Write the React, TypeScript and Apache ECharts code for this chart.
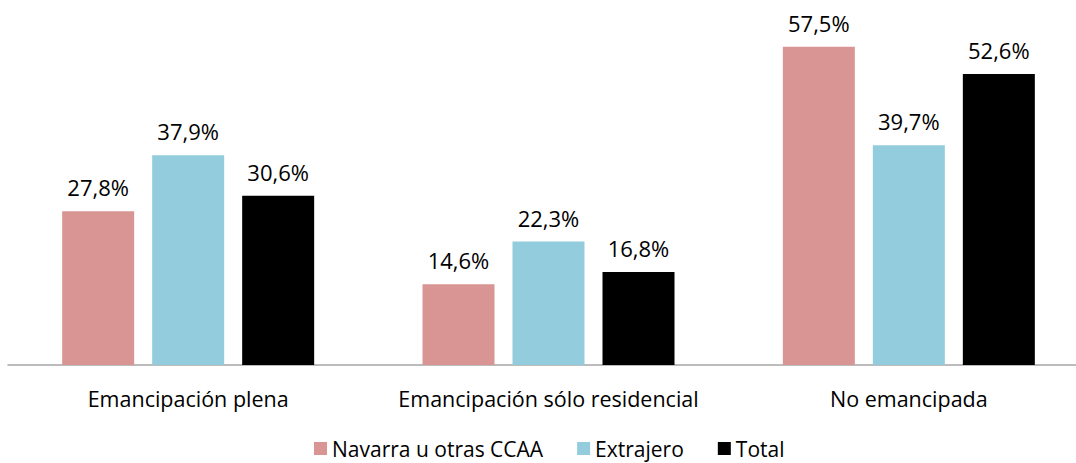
import React, { useEffect, useRef } from "react";
import * as echarts from "echarts";

const categories = ["Emancipación plena", "Emancipación sólo residencial", "No emancipada"];
const seriesNames = ["Navarra u otras CCAA", "Extrajero", "Total"];
const navarra = [27.8, 14.6, 57.5];
const extranjero = [37.9, 22.3, 39.7];
const total = [30.6, 16.8, 52.6];
const colors = ["#D99594", "#93CDDD", "#000000"];

const FONT = "Open Sans";

export default function App() {
  const ref = useRef<HTMLDivElement>(null);
  useEffect(() => {
    if (!ref.current) return;
    const chart = echarts.init(ref.current, undefined, { renderer: "svg" });
    const data = [navarra, extranjero, total];
    chart.setOption({
      animation: false,
      textStyle: { fontFamily: FONT },
      grid: { left: 8, top: 33, width: 1081, height: 332 },
      legend: {
        left: 314,
        top: 438,
        padding: 0,
        itemWidth: 13,
        itemHeight: 13,
        itemGap: 34,
        icon: "rect",
        textStyle: { fontSize: 21, lineHeight: 20, color: "#000", fontFamily: FONT },
        data: seriesNames,
      },
      xAxis: {
        type: "category",
        data: categories,
        axisLine: { lineStyle: { color: "#A6A6A6", width: 1.5 } },
        axisTick: { show: false },
        axisLabel: { interval: 0, fontSize: 21.5, color: "#000", margin: 22, fontFamily: FONT },
      },
      yAxis: { type: "value", min: 0, max: 60, show: false, splitLine: { show: false } },
      series: seriesNames.map((name, i) => ({
        name,
        type: "bar",
        data: data[i],
        barWidth: 72,
        barGap: "25%",
        itemStyle: { color: colors[i] },
        label: {
          show: true,
          position: "top",
          distance: 13,
          fontSize: 22,
          color: "#000",
          fontFamily: FONT,
          formatter: (p: any) => p.value.toFixed(1).replace(".", ",") + "%",
        },
      })),
    });
    return () => chart.dispose();
  }, []);
  return (
    <div
      ref={ref}
      style={{ position: "fixed", left: 0, top: 0, width: 1100, height: 463, background: "#fff" }}
    />
  );
}
